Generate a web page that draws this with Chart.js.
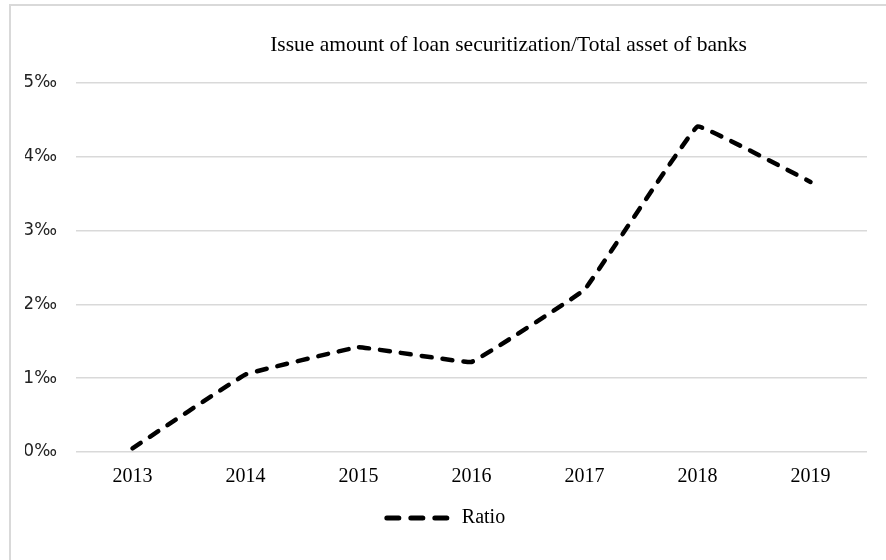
<!DOCTYPE html>
<html>
<head>
<meta charset="utf-8">
<style>
  html, body { margin: 0; padding: 0; background: #fff; }
  #wrap { width: 886px; height: 560px; position: relative; }
</style>
<script src="https://cdn.jsdelivr.net/npm/chart.js@4.4.0/dist/chart.umd.min.js"></script>
</head>
<body>
<div id="wrap"><canvas id="ratio-chart" width="886" height="560"></canvas></div>
<script>
    "use strict";

    // Data
    var years = ["2013", "2014", "2015", "2016", "2017", "2018", "2019"];
    var ratio = [0.05, 1.05, 1.42, 1.22, 2.2, 4.41, 3.66];
    var yTicks = [0, 1, 2, 3, 4, 5];
    var titleText = "Issue amount of loan securitization/Total asset of banks";

    var serif = "'Liberation Serif', 'DejaVu Serif', serif";

    // Frame lines (top + left) and title
    var frame = {
        id: "frame",
        beforeDraw: function (chart) {
            var ctx = chart.ctx;
            ctx.save();
            ctx.fillStyle = "#fff";
            ctx.fillRect(0, 0, chart.width, chart.height);
            ctx.strokeStyle = "#d9d9d9";
            ctx.lineWidth = 2;
            ctx.beginPath();
            ctx.moveTo(10, chart.height);
            ctx.lineTo(10, 5);
            ctx.lineTo(chart.width, 5);
            ctx.stroke();
            ctx.restore();
        },
        afterDraw: function (chart) {
            var ctx = chart.ctx;
            var area = chart.chartArea;
            ctx.save();
            ctx.font = "21.5px " + serif;
            ctx.fillStyle = "#000";
            ctx.textAlign = "center";
            ctx.textBaseline = "middle";
            ctx.fillText(titleText, (area.left + area.right) / 2 + 37, 45);
            ctx.restore();
        }
    };

    var ctx1 = document.getElementById("ratio-chart").getContext("2d");
    var myChart1 = new Chart(ctx1, {
        type: "line",
        data: {
            labels: years,
            datasets: [{
                label: "Ratio",
                data: ratio,
                borderColor: "#000",
                backgroundColor: "#000",
                borderWidth: 4.5,
                borderDash: [10, 11],
                borderCapStyle: "round",
                borderJoinStyle: "round",
                pointRadius: 0,
                pointStyle: "line",
                tension: 0.05,
                fill: false
            }]
        },
        options: {
            responsive: false,
            animation: false,
            layout: {
                padding: { left: 25, right: 19, top: 83, bottom: 22 }
            },
            plugins: {
                title: { display: false },
                tooltip: { enabled: false },
                legend: {
                    position: "bottom",
                    labels: {
                        usePointStyle: true,
                        pointStyle: "line",
                        pointStyleWidth: 65,
                        boxHeight: 20,
                        color: "#000",
                        font: { family: serif, size: 20 },
                        padding: 14,
                        generateLabels: function (chart) {
                            var items = Chart.defaults.plugins.legend.labels.generateLabels(chart);
                            items.forEach(function (it) {
                                it.lineDash = [12, 12];
                                it.lineWidth = 5;
                                it.lineCap = "round";
                                it.strokeStyle = "#000";
                            });
                            return items;
                        }
                    }
                }
            },
            scales: {
                x: {
                    offset: true,
                    grid: { display: false },
                    border: { display: false },
                    ticks: {
                        color: "#000",
                        font: { family: serif, size: 20 },
                        padding: 5
                    }
                },
                y: {
                    min: 0,
                    max: 5,
                    afterBuildTicks: function (axis) {
                        axis.ticks = yTicks.map(function (v) { return { value: v }; });
                    },
                    afterFit: function (axis) {
                        axis.width = 51;
                    },
                    grid: { color: "#d9d9d9", lineWidth: 1.5, drawTicks: false },
                    border: { display: false },
                    ticks: {
                        color: "#222",
                        font: { family: "'DejaVu Sans', sans-serif", size: 17 },
                        padding: 19,
                        callback: function (v) { return v + "\u2030"; }
                    }
                }
            }
        },
        plugins: [frame]
    });
</script>
</body>
</html>
